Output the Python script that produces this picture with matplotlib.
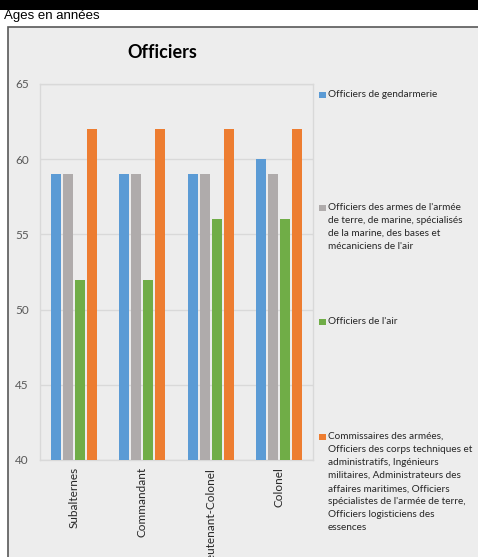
import numpy as np
import matplotlib.pyplot as plt
from matplotlib.patches import Rectangle

categories = ["Subalternes", "Commandant", "Lieutenant-Colonel", "Colonel"]
series_names = [
    "Officiers de gendarmerie",
    "Officiers des armes de l'armée\nde terre, de marine, spécialisés\nde la marine, des bases et\nmécaniciens de l'air",
    "Officiers de l'air",
    "Commissaires des armées,\nOfficiers des corps techniques et\nadministratifs, Ingénieurs\nmilitaires, Administrateurs des\naffaires maritimes, Officiers\nspécialistes de l'armée de terre,\nOfficiers logisticiens des\nessences",
]
gendarmerie = [59, 59, 59, 60]
armes = [59, 59, 59, 59]
air = [52, 52, 56, 56]
commissaires = [62, 62, 62, 62]
colors = ["#5B9BD5", "#AFABAB", "#70AD47", "#ED7D31"]

W, H = 478, 557
fig = plt.figure(figsize=(W / 100, H / 100), dpi=100)
fig.patch.set_facecolor("white")

def fx(px):
    return px / W

def fy(py):
    return 1 - py / H

# black band at the top
fig.patches.append(Rectangle((0, fy(10)), 1, 10 / H, transform=fig.transFigure,
                             facecolor="black", edgecolor="none", zorder=-10))
fig.text(fx(4), fy(16), "Ages en années", fontsize=9.5, family="Liberation Sans",
         va="center", ha="left", color="black")

# chart frame
fig.patches.append(Rectangle((fx(8), -0.05), 1.0, fy(27) + 0.05, transform=fig.transFigure,
                             facecolor="#EDEDED", edgecolor="#595959", linewidth=1.2, zorder=-10))

ax = fig.add_axes([fx(40), fy(460), fx(313) - fx(40), (460 - 84) / H])
ax.set_zorder(1)
ax.set_facecolor("#EDEDED")

data = [gendarmerie, armes, air, commissaires]
x = np.arange(len(categories))
bw = 0.147
step = 0.176
for i, vals in enumerate(data):
    ax.bar(x + (i - 1.5) * step, np.array(vals) - 40, bottom=40, width=bw,
           color=colors[i], zorder=3)

ax.set_xlim(-0.5, len(categories) - 0.5)
ax.set_ylim(40, 65)
ax.set_yticks([40, 45, 50, 55, 60, 65])
ax.yaxis.grid(True, color="#D9D9D9", linewidth=1, zorder=0)
for s in ax.spines.values():
    s.set_color("#D9D9D9")
    s.set_linewidth(1)
ax.tick_params(axis="both", length=0, colors="#595959")
ax.tick_params(axis="y", pad=8, labelsize=8.5)
ax.tick_params(axis="x", pad=5)
ax.set_xticks(x)
ax.set_xticklabels(categories, rotation=90, fontsize=8.5, family="Lato", va="top",
                   color="#262626")
for lab in ax.get_yticklabels():
    lab.set_family("Lato")

fig.text(fx(162), fy(52), "Officiers", fontsize=13, fontweight="bold",
         family="Lato", ha="center", va="center", color="black")

# legend
leg_y = [95, 208, 322, 437]
for i, name in enumerate(series_names):
    fig.patches.append(Rectangle((fx(319), fy(leg_y[i] + 3)), 7 / W, 6 / H,
                                 transform=fig.transFigure, facecolor=colors[i],
                                 edgecolor="none"))
    fig.text(fx(328), fy(leg_y[i] - 5), name, fontsize=7.2, family="Lato",
             ha="left", va="top", color="#262626", linespacing=1.58)

fig.savefig("out.png", dpi=100)
